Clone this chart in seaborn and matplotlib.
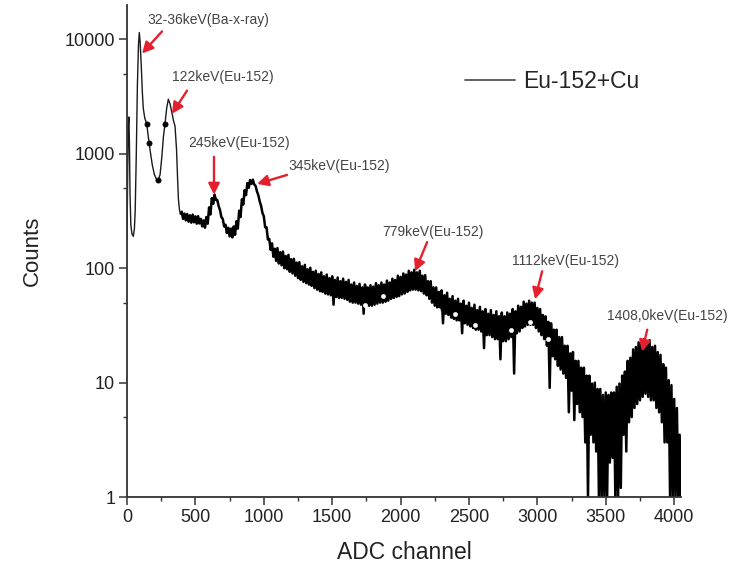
import matplotlib
matplotlib.use("Agg")
import matplotlib.pyplot as plt
import pandas as pd
import seaborn as sns
from matplotlib.ticker import FixedLocator, MultipleLocator, NullFormatter

# ---------------------------------------------------------------------------
# Spectrum data
# ---------------------------------------------------------------------------
# Low-energy part (Ba x-ray and 122 keV region), a single clean trace
low_channels = [0, 5, 10, 14, 18, 22, 28, 36, 46, 54, 60, 68, 76, 84, 90, 96,
                104, 112, 119, 130, 144, 156, 170, 185, 200, 215, 229, 242,
                255, 266, 278, 290, 302, 314, 328, 340, 351, 362, 370, 376,
                384, 392]
low_counts = [180, 700, 1800, 2100, 1200, 450, 240, 200, 190, 220, 320, 1000,
              4000, 9000, 11500, 9500, 6000, 3500, 2500, 2050, 1830, 1400,
              1050, 800, 660, 600, 590, 660, 950, 1400, 1830, 2500, 3000,
              2750, 2300, 1950, 1750, 1100, 600, 400, 320, 300]

# Continuum above channel 400: high and low excursions of the noisy trace
upper_channels = list(range(400, 4041, 20))
upper_counts = [
    312, 300, 298, 290, 294, 284, 285, 270, 262, 280,
    340, 410, 440, 395, 322, 270, 240, 226, 222, 232,
    258, 318, 400, 482, 555, 590, 595, 525, 435, 352,
    285, 228, 180, 165, 148, 150, 138, 140, 128, 131,
    120, 121, 112, 113, 104, 107, 98, 101, 93, 95,
    89, 92, 85, 88, 82, 85, 79, 83, 77, 81,
    76, 79, 72, 75, 70, 73, 68, 72, 68, 71,
    69, 74, 71, 75, 72, 78, 75, 81, 79, 86,
    84, 90, 88, 95, 92, 97, 92, 95, 86, 87,
    77, 77, 68, 68, 62, 64, 58, 61, 54, 57,
    52, 54, 49, 52, 47, 50, 45, 48, 43, 46,
    42, 44, 40, 43, 39, 42, 38, 41, 38, 41,
    40, 44, 42, 47, 46, 51, 49, 52, 50, 50,
    45, 44, 39, 38, 34, 33, 29, 29, 25, 25,
    21, 21, 18, 18.5, 15.5, 15.5, 13.5, 13.5, 11.5, 11.5,
    9.8, 10, 8.8, 8.8, 7.8, 8.2, 7.8, 8.2, 8.2, 9.2,
    9.8, 11.5, 12.5, 15.5, 16.5, 19.5, 20.5, 22.5, 22, 24,
    22.5, 23.5, 20.5, 21, 18.5, 17.5, 14.5, 13.5, 10.5, 9.5,
    7.2, 6, 3.5,
]
lower_channels = list(range(410, 4051, 20))
lower_counts = [
    270, 262, 255, 250, 252, 245, 246, 232, 226, 245,
    295, 365, 395, 350, 280, 232, 203, 190, 186, 196,
    222, 280, 360, 435, 505, 545, 540, 470, 385, 305,
    228, 178, 145, 126, 116, 110, 106, 100, 98, 93,
    90, 86, 82, 79, 76, 74, 72, 70, 67, 65,
    63, 62, 60, 59, 58, 48, 56, 55, 55, 54,
    53, 51, 50, 50, 49, 48, 40, 47, 47, 47,
    48, 49, 50, 50, 51, 52, 54, 55, 56, 57,
    59, 60, 62, 64, 65, 65, 64, 63, 60, 58,
    54, 50, 47, 45, 43, 33, 40, 39, 37, 36,
    35, 35, 27, 33, 32, 31, 30, 29, 29, 28,
    20, 26, 26, 25, 24, 24, 16, 23, 23, 24,
    25, 12, 27, 28, 30, 31, 32, 32, 32, 30,
    28, 26, 24, 21, 9, 17, 16, 14, 13, 12,
    11, 5.5, 8.5, 4.7, 6.5, 5.5, 5, 3, 1, 3.5,
    3, 2.5, 1, 1, 1, 1, 2, 2.2, 1, 1,
    1.2, 3.5, 2.5, 4.5, 5, 6, 6.5, 7, 7.5, 8,
    7.5, 7, 7, 6, 5.5, 4.5, 3, 3, 1, 1,
    1, 1, 1,
]

# Plot symbols shown along the trace
dot_channels = [144, 163, 229, 278, 3883]
dot_counts = [1830, 1250, 590, 1830, 15]
open_channels = [1740, 1872, 2274, 2400, 2545, 2810, 2947, 3079]
open_counts = [48, 57, 43, 40, 32, 29, 34, 24]

# Peak identifications: label, arrow head, arrow tail, text anchor (channel, counts)
peak_labels = ["32-36keV(Ba-x-ray)", "122keV(Eu-152)", "245keV(Eu-152)",
               "345keV(Eu-152)", "779keV(Eu-152)", "1112keV(Eu-152)",
               "1408,0keV(Eu-152)"]
arrow_heads = [(110, 7540), (329, 2240), (636, 440), (951, 546),
               (2106, 94), (2983, 53.5), (3766, 18.7)]
arrow_tails = [(256, 11750), (439, 3570), (636, 942), (1170, 654),
               (2194, 169), (3035, 94), (3803, 29)]
label_anchors = [(146, 14700), (329, 4735), (446, 1248), (1177, 785),
                 (1865, 207), (2815, 115), (3510, 37.9)]

# ---------------------------------------------------------------------------
# Build the trace: clean low part, then the alternating noisy continuum
# ---------------------------------------------------------------------------
low_part = pd.DataFrame({"ADC channel": low_channels, "Counts": low_counts})
cont_ch, cont_ct = [low_channels[-1]], [low_counts[-1]]
for cu, yu, cl, yl in zip(upper_channels, upper_counts, lower_channels, lower_counts):
    cont_ch += [cu, cl]
    cont_ct += [yu, yl]
continuum = pd.DataFrame({"ADC channel": cont_ch, "Counts": cont_ct})

sns.set_theme(style="ticks")
plt.rcParams["font.family"] = ["Liberation Sans", "DejaVu Sans"]

W, H = 735, 573
fig = plt.figure(figsize=(W / 100, H / 100), dpi=100)
ax = fig.add_axes([127 / W, 1 - 497 / H, (681 - 127) / W, (497 - 5) / H])

sns.lineplot(data=low_part, x="ADC channel", y="Counts", sort=False,
             estimator=None, color="#1a1a1a", lw=1.0, label="Eu-152+Cu",
             ax=ax, zorder=2)
sns.lineplot(data=continuum, x="ADC channel", y="Counts", sort=False,
             estimator=None, color="black", lw=1.8, ax=ax, zorder=2,
             legend=False)
sns.scatterplot(x=dot_channels, y=dot_counts, ax=ax, s=14, color="black",
                edgecolor="black", linewidth=0.5, legend=False, zorder=3)
sns.scatterplot(x=open_channels, y=open_counts, ax=ax, s=10, color="white",
                edgecolor="white", linewidth=0.3, legend=False, zorder=3)

ax.set_yscale("log")
ax.set_xlim(0, 4050)
ax.set_ylim(1, 20000)

ax.yaxis.set_major_locator(FixedLocator([1, 10, 100, 1000, 10000]))
ax.set_yticklabels(["1", "10", "100", "1000", "10000"])
ax.yaxis.set_minor_locator(FixedLocator([5, 50, 500, 5000]))
ax.yaxis.set_minor_formatter(NullFormatter())
ax.xaxis.set_major_locator(MultipleLocator(500))
ax.xaxis.set_minor_locator(MultipleLocator(250))

axis_color = "#333333"
for side in ["top", "right"]:
    ax.spines[side].set_visible(False)
for side in ["left", "bottom"]:
    ax.spines[side].set_color(axis_color)
    ax.spines[side].set_linewidth(1.3)
ax.tick_params(which="major", direction="out", length=5.5, width=1.1,
               colors=axis_color, labelsize=13, labelcolor="#222222", pad=3)
ax.tick_params(which="minor", direction="out", length=3, width=1.0,
               colors=axis_color)

ax.set_xlabel("ADC channel", fontsize=16.5, color="#222222", labelpad=11)
ax.set_ylabel("Counts", fontsize=16, color="#222222", labelpad=16)

for text, head, tail, anchor in zip(peak_labels, arrow_heads, arrow_tails, label_anchors):
    ax.annotate("", xy=head, xytext=tail,
                arrowprops=dict(arrowstyle="-|>,head_length=0.55,head_width=0.28",
                                color="#e5202e", lw=1.7, shrinkA=0, shrinkB=0,
                                mutation_scale=12),
                zorder=4)
    ax.text(anchor[0], anchor[1], text, fontsize=10, color="#444444",
            ha="left", va="center", zorder=4)

leg = ax.legend(loc="center left", bbox_to_anchor=(0.610, 0.8435),
                frameon=False, fontsize=16.5, handlelength=2.2,
                handletextpad=0.35, borderpad=0, borderaxespad=0)
for line in leg.get_lines():
    line.set_color("#555555")
    line.set_linewidth(1.3)

fig.savefig("out.png", dpi=100)
